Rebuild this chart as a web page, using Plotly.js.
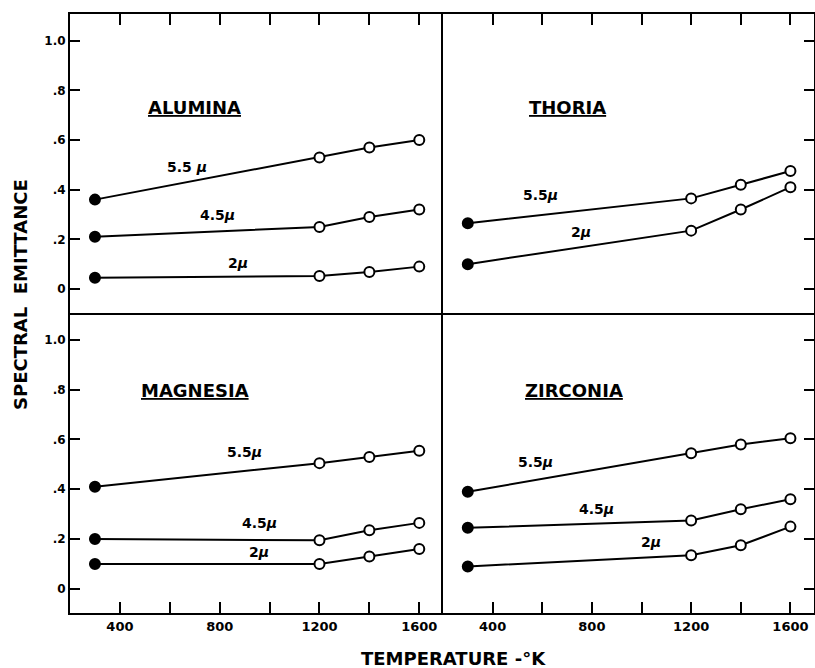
<!DOCTYPE html>
<html>
<head>
<meta charset="utf-8">
<script src="https://cdn.plot.ly/plotly-3.0.1.min.js"></script>
<style>html,body{margin:0;padding:0;background:#fff;}#chart{width:815px;height:668px;}</style>
</head>
<body>
<div id="chart"></div>
<script>
// ---- data ----
const temps = [300, 1200, 1400, 1600];

const alumina55 = [0.36, 0.53, 0.57, 0.60];
const alumina45 = [0.21, 0.25, 0.29, 0.32];
const alumina2  = [0.045, 0.052, 0.068, 0.09];

const thoria55 = [0.265, 0.365, 0.42, 0.475];
const thoria2  = [0.10, 0.235, 0.32, 0.41];

const magnesia55 = [0.41, 0.505, 0.53, 0.555];
const magnesia45 = [0.20, 0.195, 0.235, 0.265];
const magnesia2  = [0.10, 0.10, 0.13, 0.16];

const zirconia55 = [0.39, 0.545, 0.58, 0.605];
const zirconia45 = [0.245, 0.275, 0.32, 0.36];
const zirconia2  = [0.09, 0.135, 0.175, 0.25];

const panelNames = ["ALUMINA", "THORIA", "MAGNESIA", "ZIRCONIA"];
const xTickVals = [400, 600, 800, 1000, 1200, 1400, 1600];
const xTickText = ["400", "", "800", "", "1200", "", "1600"];
const yTickVals = [0, 0.2, 0.4, 0.6, 0.8, 1.0];
const yTickText = ["0", ".2", ".4", ".6", ".8", "1.0"];

// curve labels: [panel index, text, x, y]
const curveLabels = [
  [1, "5.5 <i>μ</i>", 670, 0.49],
  [1, "4.5<i>μ</i>", 790, 0.30],
  [1, "2<i>μ</i>", 875, 0.105],
  [2, "5.5<i>μ</i>", 593, 0.38],
  [2, "2<i>μ</i>", 758, 0.23],
  [3, "5.5<i>μ</i>", 899, 0.548],
  [3, "4.5<i>μ</i>", 959, 0.264],
  [3, "2<i>μ</i>", 959, 0.148],
  [4, "5.5<i>μ</i>", 573, 0.508],
  [4, "4.5<i>μ</i>", 818, 0.32],
  [4, "2<i>μ</i>", 1040, 0.188]
];

// ---- build ----
const FONT = "DejaVu Sans, Liberation Sans, Arial, sans-serif";
const panels = [
  [alumina55, alumina45, alumina2],
  [thoria55, thoria2],
  [magnesia55, magnesia45, magnesia2],
  [zirconia55, zirconia45, zirconia2]
];
const fillColors = temps.map((t, i) => i === 0 ? "black" : "white");

const traces = [];
panels.forEach((series, p) => {
  const ax = p === 0 ? "" : String(p + 1);
  series.forEach(vals => {
    traces.push({
      x: temps, y: vals, type: "scatter", mode: "lines+markers",
      xaxis: "x" + ax, yaxis: "y" + ax,
      line: {color: "black", width: 2},
      marker: {size: 10, color: fillColors, line: {color: "black", width: 2}},
      showlegend: false, hoverinfo: "skip"
    });
  });
});

const xRange = [200, 1695];
const yRange = [-0.097, 1.108];
const splitX = 0.5013, splitY = 0.5008;

function xAxis(domain, top, anchor) {
  return {
    domain: domain, range: xRange, anchor: anchor,
    side: top ? "top" : "bottom",
    showline: true, mirror: top, linecolor: "black", linewidth: 2,
    ticks: "inside", ticklen: 11, tickwidth: 2, tickcolor: "black",
    tickvals: xTickVals, ticktext: xTickText,
    showticklabels: !top, showgrid: false, zeroline: false,
    tickfont: {family: FONT, size: 13, color: "black", weight: "bold"}
  };
}
function yAxis(domain, right, anchor) {
  return {
    domain: domain, range: yRange, anchor: anchor,
    side: right ? "right" : "left",
    showline: true, mirror: right, linecolor: "black", linewidth: right ? 1.6 : 2,
    ticks: "inside", ticklen: 10, tickwidth: 2, tickcolor: "black",
    tickvals: yTickVals, ticktext: yTickText,
    showticklabels: !right, showgrid: false, zeroline: false,
    tickfont: {family: FONT, size: 12, color: "black", weight: "bold"}
  };
}

const annotations = [];
const namePos = [[698, 0.73], [702, 0.73], [702, 0.796], [728, 0.796]];
panelNames.forEach((n, p) => {
  const ax = p === 0 ? "" : String(p + 1);
  annotations.push({
    text: "<b><u>" + n + "</u></b>", x: namePos[p][0], y: namePos[p][1],
    xref: "x" + ax, yref: "y" + ax, showarrow: false,
    font: {family: FONT, size: 18, color: "black"}
  });
});
curveLabels.forEach(c => {
  const ax = c[0] === 1 ? "" : String(c[0]);
  annotations.push({
    text: "<b>" + c[1] + "</b>", x: c[2], y: c[3],
    xref: "x" + ax, yref: "y" + ax, showarrow: false,
    font: {family: FONT, size: 14, color: "black"}
  });
});
const L = 70, R = 1, T = 14, B = 55, W = 815, H = 668;
const pw = W - L - R, ph = H - T - B;
annotations.push({
  text: "<b>SPECTRAL  EMITTANCE</b>", textangle: -90,
  x: (20 - L) / pw, y: (H - B - 295) / ph, xref: "paper", yref: "paper",
  xanchor: "center", yanchor: "middle", showarrow: false,
  font: {family: FONT, size: 18, color: "black"}
});
annotations.push({
  text: "<b>TEMPERATURE -°K</b>",
  x: (453 - L) / pw, y: (H - B - 658) / ph, xref: "paper", yref: "paper",
  xanchor: "center", yanchor: "middle", showarrow: false,
  font: {family: FONT, size: 18, color: "black"}
});

const layout = {
  width: W, height: H,
  margin: {l: L, r: R, t: T, b: B, pad: 0},
  paper_bgcolor: "white", plot_bgcolor: "white",
  font: {family: FONT, color: "black"},
  xaxis:  xAxis([0, splitX], true, "y"),
  yaxis:  yAxis([splitY, 1], false, "x"),
  xaxis2: xAxis([splitX, 1], true, "y2"),
  yaxis2: yAxis([splitY, 1], true, "x2"),
  xaxis3: xAxis([0, splitX], false, "y3"),
  yaxis3: yAxis([0, splitY], false, "x3"),
  xaxis4: xAxis([splitX, 1], false, "y4"),
  yaxis4: yAxis([0, splitY], true, "x4"),
  annotations: annotations,
  showlegend: false
};

Plotly.newPlot("chart", traces, layout, {displayModeBar: false, staticPlot: true});
</script>
</body>
</html>
